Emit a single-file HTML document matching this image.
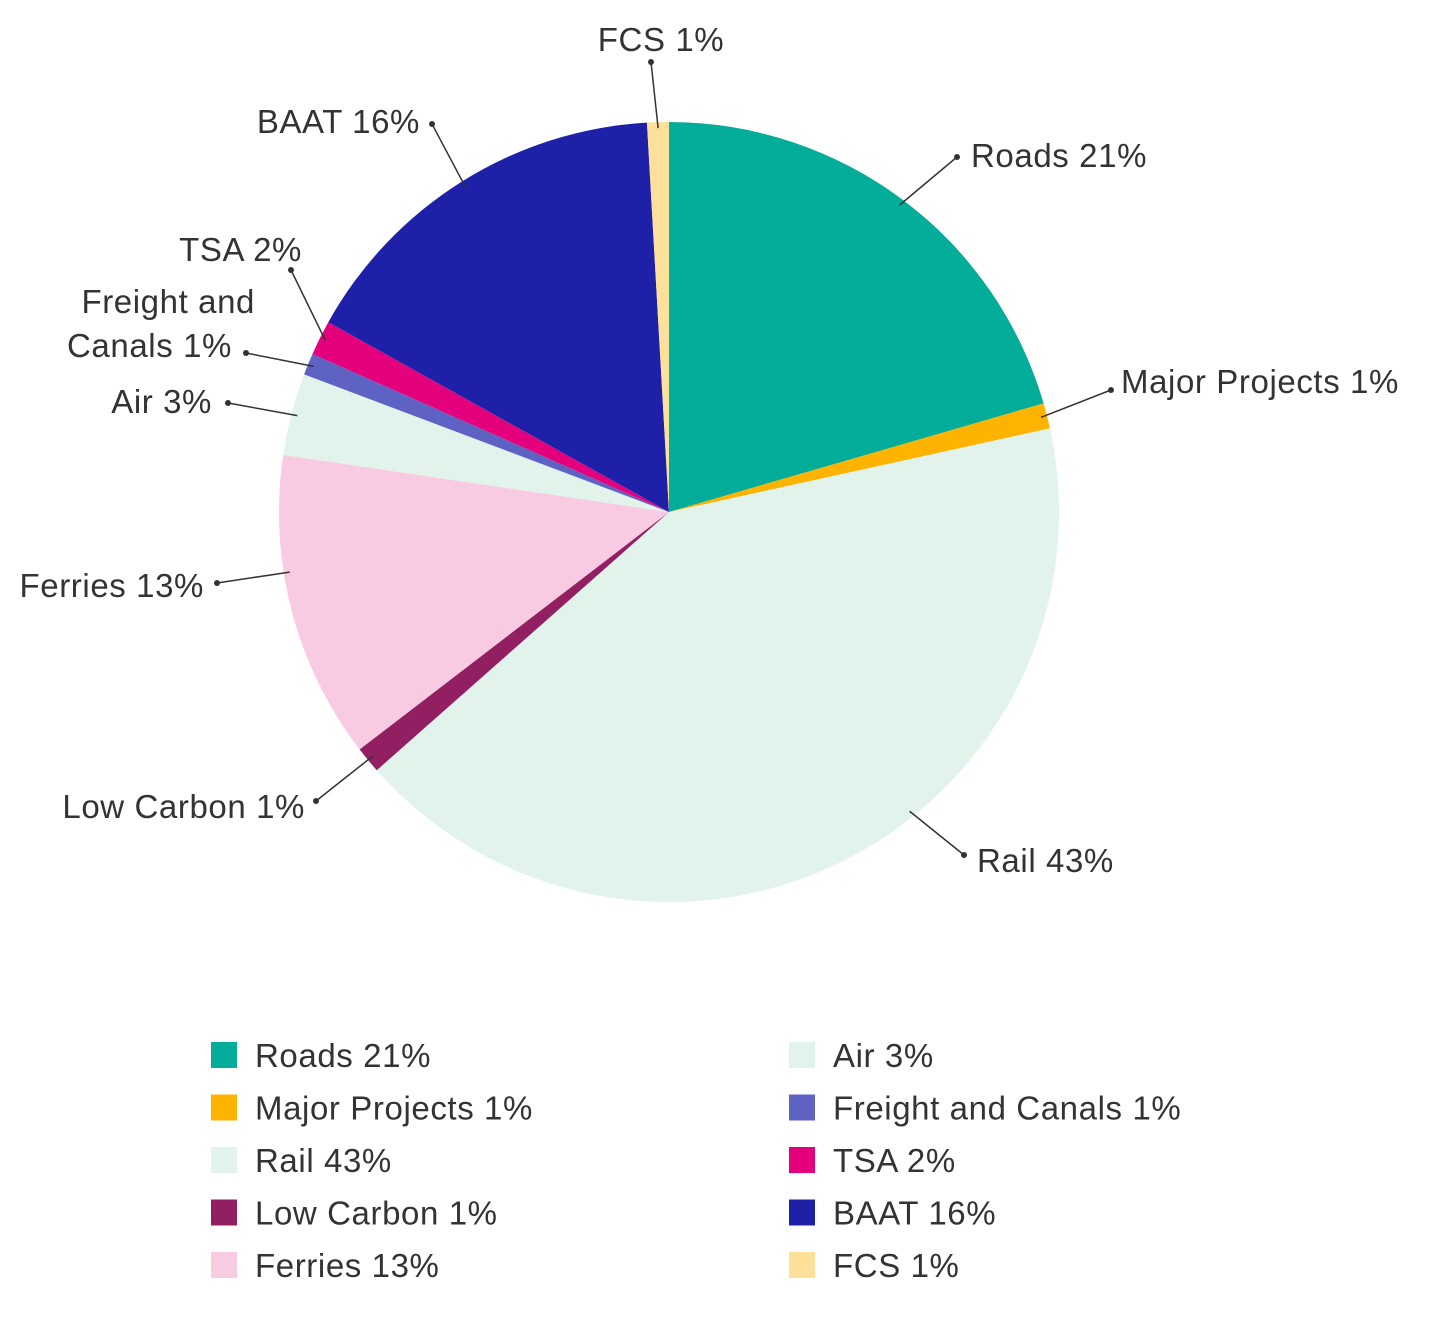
<!DOCTYPE html>
<html><head><meta charset="utf-8"><style>
body{margin:0;background:#fff;}
svg text{font-family:"Liberation Sans",sans-serif;fill:#333;font-size:33px;letter-spacing:0.6px;}
</style></head><body>
<svg id="chart" width="1430" height="1316" xmlns="http://www.w3.org/2000/svg">
<g id="slices"></g>
<g id="labels"></g>
<g id="legend"></g>
</svg>
<script>
const categories = ["Roads","Major Projects","Rail","Low Carbon","Ferries","Air","Freight and Canals","TSA","BAAT","FCS"];
const values = [20.5,1.05,41.9,1.1,12.75,3.4,0.9,1.45,16,0.9];
const labelText = ["Roads 21%","Major Projects 1%","Rail 43%","Low Carbon 1%","Ferries 13%","Air 3%","Freight and Canals 1%","TSA 2%","BAAT 16%","FCS 1%"];
const colors = ["#03ad9a","#fdb300","#e2f3eb","#931f63","#f9cbe3","#e2f3eb","#5e62c3","#e4007d","#1e21a8","#fde09a"];
const labelLayout = [
 {dx:957,dy:157,tx:971,ty:167,a:"start"},
 {dx:1111,dy:390,tx:1121,ty:393,a:"start"},
 {dx:964,dy:855,tx:977,ty:872,a:"start",ang:141.2},
 {dx:316,dy:801,tx:305,ty:818,a:"end"},
 {dx:217,dy:583,tx:204,ty:597,a:"end",ang:261},
 {dx:228,dy:403,tx:212,ty:413,a:"end"},
 {dx:246,dy:353,tx:255,ty:313,a:"end",two:["Freight and","Canals 1%"],tx2:232,ty2:357},
 {dx:291,dy:270,tx:302,ty:261,a:"end"},
 {dx:432,dy:124,tx:420,ty:133,a:"end"},
 {dx:651,dy:62,tx:661,ty:51,a:"middle"}
];
const NS="http://www.w3.org/2000/svg";
const cx=669, cy=512, r=390;
const total=values.reduce((a,b)=>a+b,0);
function pt(angleDeg, rad){const a=angleDeg*Math.PI/180;return [cx+rad*Math.sin(a), cy-rad*Math.cos(a)];}
const sG=document.getElementById('slices'), lG=document.getElementById('labels'), gG=document.getElementById('legend');
let acc=0;
values.forEach((v,i)=>{
  const a0=acc/total*360, a1=(acc+v)/total*360; acc+=v;
  const p0=pt(a0,r), p1=pt(a1,r);
  const path=document.createElementNS(NS,'path');
  path.setAttribute('d',`M${cx},${cy} L${p0[0]},${p0[1]} A${r},${r} 0 ${a1-a0>180?1:0} 1 ${p1[0]},${p1[1]} Z`);
  path.setAttribute('fill',colors[i]);
  
  
  sG.appendChild(path);
  const L=labelLayout[i], mid=(L.ang!==undefined)?L.ang:(a0+a1)/2, s=pt(mid,r-6);
  const line=document.createElementNS(NS,'line');
  line.setAttribute('x1',s[0]);line.setAttribute('y1',s[1]);line.setAttribute('x2',L.dx);line.setAttribute('y2',L.dy);
  line.setAttribute('stroke','#333');line.setAttribute('stroke-width','1.5');
  
  
  lG.appendChild(line);
  const dot=document.createElementNS(NS,'circle');
  dot.setAttribute('cx',L.dx);dot.setAttribute('cy',L.dy);dot.setAttribute('r','3');dot.setAttribute('fill','#333');
  
  
  lG.appendChild(dot);
  if(L.two){
    [[L.two[0],L.tx,L.ty],[L.two[1],L.tx2,L.ty2]].forEach(t=>{
      const tx=document.createElementNS(NS,'text');
      tx.setAttribute('x',t[1]);tx.setAttribute('y',t[2]);tx.setAttribute('text-anchor','end');tx.textContent=t[0];
      
      
      lG.appendChild(tx);
    });
  } else {
    const tx=document.createElementNS(NS,'text');
    tx.setAttribute('x',L.tx);tx.setAttribute('y',L.ty);tx.setAttribute('text-anchor',L.a);tx.textContent=labelText[i];
    
    
    lG.appendChild(tx);
  }
  const col=i<5?0:1, row=i%5;
  const sx=col?789:211, sy=1042+row*52.5;
  const sq=document.createElementNS(NS,'rect');
  sq.setAttribute('x',sx);sq.setAttribute('y',sy);sq.setAttribute('width','26');sq.setAttribute('height','26');sq.setAttribute('fill',colors[i]);
  
  
  gG.appendChild(sq);
  const lt=document.createElementNS(NS,'text');
  lt.setAttribute('x',sx+44);lt.setAttribute('y',sy+25);lt.textContent=labelText[i];
  
  
  gG.appendChild(lt);
});
</script>
</body></html>
